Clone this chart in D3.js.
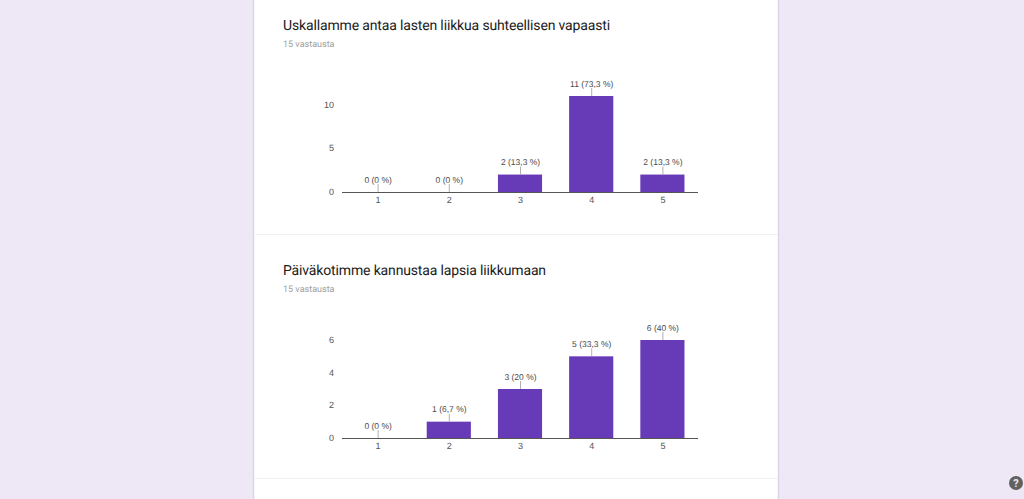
<!DOCTYPE html>
<html>
<head>
<meta charset="utf-8">
<script src="https://cdn.jsdelivr.net/npm/d3@7"></script>
<style>
html, body { margin: 0; padding: 0; background: #ede7f6; overflow: hidden; }
svg { display: block; text-rendering: geometricPrecision; }
.title { font-family: Roboto, sans-serif; font-size: 14px; letter-spacing: -0.15px; fill: #212121; }
.count { font-family: Roboto, sans-serif; font-size: 9px; fill: #9e9e9e; }
.lbl { font-family: "Liberation Sans", Arial, sans-serif; font-size: 8.5px; fill: #4a4a4a; }
.tick-lbl { font-family: "Liberation Sans", Arial, sans-serif; font-size: 9px; fill: #555; }
</style>
</head>
<body>
<script>
var categories = ['1', '2', '3', '4', '5'];

var firstTitle = 'Uskallamme antaa lasten liikkua suhteellisen vapaasti';
var firstValues = [0, 0, 2, 11, 2];
var firstLabels = ['0 (0 %)', '0 (0 %)', '2 (13,3 %)', '11 (73,3 %)', '2 (13,3 %)'];
var firstTicks = [0, 5, 10];

var secondTitle = 'Päiväkotimme kannustaa lapsia liikkumaan';
var secondValues = [0, 1, 3, 5, 6];
var secondLabels = ['0 (0 %)', '1 (6,7 %)', '3 (20 %)', '5 (33,3 %)', '6 (40 %)'];
var secondTicks = [0, 2, 4, 6];

var answers = '15 vastausta';

var svg = d3.select('body').append('svg').attr('width', 1024).attr('height', 499);

// the white form card with its thin borders
svg.append('rect').attr('x', 0).attr('y', 0).attr('width', 1024).attr('height', 499).attr('fill', '#ede7f6');
svg.append('rect').attr('x', 253.5).attr('y', -5).attr('width', 525).attr('height', 520)
	.attr('fill', '#fff').attr('stroke', '#dcd6e6').attr('stroke-width', 1.5);
svg.append('line').attr('x1', 255).attr('x2', 778).attr('y1', 234.5).attr('y2', 234.5).attr('stroke', '#f1f1f1');
svg.append('line').attr('x1', 255).attr('x2', 778).attr('y1', 478.5).attr('y2', 478.5).attr('stroke', '#f1f1f1');

function drawChart(title, values, labels, ticks, titleY, axisY, y) {

	svg.append('text').attr('class', 'title').attr('x', 283).attr('y', titleY).text(title);
	svg.append('text').attr('class', 'count').attr('x', 283).attr('y', titleY + 17).text(answers);

	var x = d3.scaleBand().domain(categories).range([342, 698]).paddingInner(0.38).paddingOuter(0.19);
	var mid = function(c) { return x(c) + x.bandwidth() / 2 + 0.5; };

	var g = svg.append('g');

	g.selectAll('rect.bar').data(values).enter().append('rect')
		.attr('class', 'bar')
		.attr('x', function(d, i) { return x(categories[i]); })
		.attr('y', function(d) { return y(d); })
		.attr('width', x.bandwidth())
		.attr('height', function(d) { return axisY - y(d); })
		.attr('fill', '#673ab7');

	// short leader between bar and its label
	g.selectAll('line.lead').data(values).enter().append('line')
		.attr('class', 'lead')
		.attr('x1', function(d, i) { return mid(categories[i]); })
		.attr('x2', function(d, i) { return mid(categories[i]); })
		.attr('y1', function(d) { return y(d) - 8; })
		.attr('y2', function(d) { return y(d); })
		.attr('stroke', '#b0b0b0');

	g.selectAll('text.lbl').data(labels).enter().append('text')
		.attr('class', 'lbl')
		.attr('text-anchor', 'middle')
		.attr('x', function(d, i) { return mid(categories[i]); })
		.attr('y', function(d, i) { return y(values[i]) - 9.5; })
		.text(function(d) { return d; });

	g.append('line').attr('x1', 342).attr('x2', 698).attr('y1', axisY + 0.5).attr('y2', axisY + 0.5).attr('stroke', '#555');

	g.selectAll('text.xt').data(categories).enter().append('text')
		.attr('class', 'tick-lbl xt')
		.attr('text-anchor', 'middle')
		.attr('x', function(d) { return mid(d); })
		.attr('y', axisY + 11)
		.text(function(d) { return d; });

	g.selectAll('text.yt').data(ticks).enter().append('text')
		.attr('class', 'tick-lbl yt')
		.attr('text-anchor', 'end')
		.attr('x', 334)
		.attr('y', function(d) { return y(d) + 3; })
		.text(function(d) { return d; });
}

drawChart(firstTitle, firstValues, firstLabels, firstTicks, 30, 192,
	d3.scaleLinear().domain([0, 11]).range([192, 96]));

drawChart(secondTitle, secondValues, secondLabels, secondTicks, 275, 438,
	d3.scaleLinear().domain([0, 6]).range([438, 340]));

// help button, bottom right
svg.append('circle').attr('cx', 1016).attr('cy', 483).attr('r', 7).attr('fill', '#616161');
svg.append('text').attr('x', 1016).attr('y', 487).attr('text-anchor', 'middle')
	.attr('font-family', 'Roboto, sans-serif').attr('font-size', 11).attr('font-weight', 700)
	.attr('fill', '#ede7f6').text('?');
</script>
</body>
</html>
